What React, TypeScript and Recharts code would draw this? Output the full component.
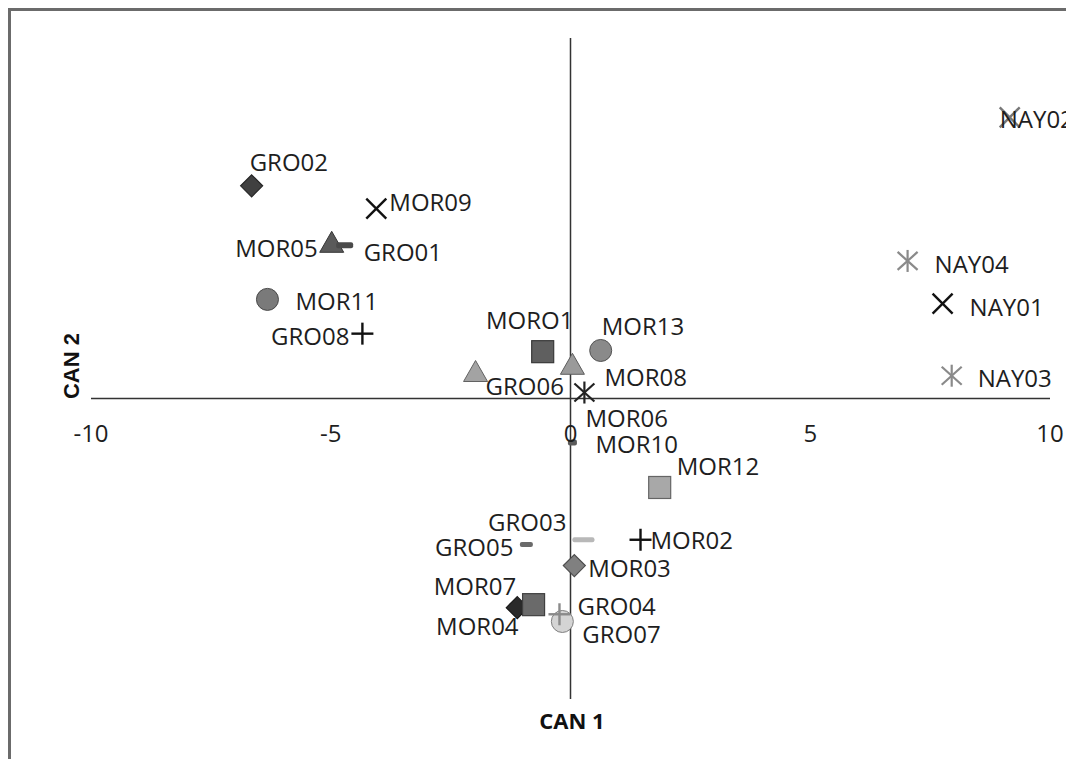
import { ReferenceDot, ReferenceLine, Scatter, ScatterChart, XAxis, YAxis } from 'recharts';

// canonical scores
const samples = [
  'GRO02', 'MOR09', 'MOR05', 'GRO01', 'MOR11', 'GRO08', 'MORO1', 'MOR13', 'GRO06', 'MOR08',
  'MOR06', 'MOR10', 'MOR12', 'GRO03', 'GRO05', 'MOR02', 'MOR03', 'MOR07', 'MOR04', 'GRO07',
  'GRO04', 'NAY02', 'NAY04', 'NAY01', 'NAY03',
];
const can1 = [
  -6.65, -4.05, -4.98, -4.71, -6.32, -4.34, -0.58, 0.63, -1.98, 0.04,
  0.29, 0.04, 1.86, 0.27, -0.92, 1.46, 0.08, -1.11, -0.77, -0.17,
  -0.23, 9.16, 7.03, 7.76, 7.95,
];
const can2 = [
  3.54, 3.16, 2.6, 2.55, 1.65, 1.08, 0.78, 0.8, 0.45, 0.57,
  0.1, -0.73, -1.48, -2.35, -2.43, -2.35, -2.78, -3.48, -3.43, -3.71,
  -3.59, 4.68, 2.29, 1.58, 0.38,
];
const xTicks = [-10, -5, 0, 5, 10];
const xDomain: [number, number] = [-10, 10];
const yDomain: [number, number] = [-5, 6];

const points = samples.map((name, i) => ({ name, can1: can1[i], can2: can2[i] }));

type Mark = 'diamond' | 'square' | 'circle' | 'triangle' | 'x' | 'plus' | 'star' | 'dash';
type Style = { mark: Mark; fill: string; size?: number; w?: number; lx: number; ly: number; anchor?: 'start' | 'middle' | 'end' };

const styles: Record<string, Style> = {
  GRO02: { mark: 'diamond', fill: '#404040', lx: -2, ly: -24 },
  MOR09: { mark: 'x', fill: '#111', lx: 13, ly: -7 },
  MOR05: { mark: 'triangle', fill: '#5a5a5a', lx: -14, ly: 5, anchor: 'end' },
  GRO01: { mark: 'dash', fill: '#4a4a4a', w: 17, size: 6, lx: 19, ly: 6 },
  MOR11: { mark: 'circle', fill: '#7a7a7a', lx: 28, ly: 1 },
  GRO08: { mark: 'plus', fill: '#111', lx: -13, ly: 2, anchor: 'end' },
  MORO1: { mark: 'square', fill: '#5f5f5f', lx: -13, ly: -32, anchor: 'middle' },
  MOR13: { mark: 'circle', fill: '#8a8a8a', lx: 1, ly: -25 },
  GRO06: { mark: 'triangle', fill: '#a3a3a3', lx: 10, ly: 14 },
  MOR08: { mark: 'triangle', fill: '#9a9a9a', lx: 32, ly: 12 },
  MOR06: { mark: 'star', fill: '#222', lx: 1, ly: 25 },
  MOR10: { mark: 'dash', fill: '#5a5a5a', w: 9, size: 6, lx: 23, ly: 1 },
  MOR12: { mark: 'square', fill: '#a8a8a8', lx: 17, ly: -22 },
  GRO03: { mark: 'dash', fill: '#b8b8b8', w: 22, size: 5, lx: -17, ly: -18, anchor: 'end' },
  GRO05: { mark: 'dash', fill: '#6a6a6a', w: 13, size: 5, lx: -13, ly: 2, anchor: 'end' },
  MOR02: { mark: 'plus', fill: '#111', lx: 10, ly: 0 },
  MOR03: { mark: 'diamond', fill: '#808080', lx: 14, ly: 2 },
  MOR07: { mark: 'diamond', fill: '#2a2a2a', lx: -1, ly: -22, anchor: 'end' },
  MOR04: { mark: 'square', fill: '#6a6a6a', lx: -15, ly: 21, anchor: 'end' },
  GRO07: { mark: 'circle', fill: '#d4d4d4', lx: 20, ly: 12 },
  GRO04: { mark: 'plus', fill: '#8a8a8a', lx: 18, ly: -9 },
  NAY02: { mark: 'x', fill: '#777', lx: -10, ly: 1 },
  NAY04: { mark: 'star', fill: '#8a8a8a', lx: 27, ly: 3 },
  NAY01: { mark: 'x', fill: '#111', lx: 27, ly: 3 },
  NAY03: { mark: 'star', fill: '#8a8a8a', lx: 26, ly: 2 },
};

const FONT = '"Open Sans", sans-serif';

function darker(c: string) {
  const n = parseInt(c.slice(1).length === 3 ? c.slice(1).split('').map((d) => d + d).join('') : c.slice(1), 16);
  const f = (v: number) => Math.round(v * 0.6).toString(16).padStart(2, '0');
  return '#' + f((n >> 16) & 255) + f((n >> 8) & 255) + f(n & 255);
}

function drawMark(s: Style, cx: number, cy: number) {
  const h = s.size ?? 11;
  const edge = darker(s.fill);
  switch (s.mark) {
    case 'diamond':
      return <polygon points={`${cx},${cy - h} ${cx + h},${cy} ${cx},${cy + h} ${cx - h},${cy}`} fill={s.fill} stroke={edge} strokeWidth={1.2} />;
    case 'square':
      return <rect x={cx - h} y={cy - h} width={2 * h} height={2 * h} fill={s.fill} stroke={edge} strokeWidth={1.2} />;
    case 'circle':
      return <circle cx={cx} cy={cy} r={h} fill={s.fill} stroke={edge} strokeWidth={1} />;
    case 'triangle':
      return <polygon points={`${cx},${cy - h} ${cx + h + 1},${cy + h - 1} ${cx - h - 1},${cy + h - 1}`} fill={s.fill} stroke={edge} strokeWidth={1} />;
    case 'x':
      return (
        <g stroke={s.fill} strokeWidth={2.4}>
          <line x1={cx - 10} y1={cy - 10} x2={cx + 10} y2={cy + 10} />
          <line x1={cx - 10} y1={cy + 10} x2={cx + 10} y2={cy - 10} />
        </g>
      );
    case 'plus':
      return (
        <g stroke={s.fill} strokeWidth={2.4}>
          <line x1={cx - 11} y1={cy} x2={cx + 11} y2={cy} />
          <line x1={cx} y1={cy - 11} x2={cx} y2={cy + 11} />
        </g>
      );
    case 'star':
      return (
        <g stroke={s.fill} strokeWidth={2.2}>
          <line x1={cx - 10} y1={cy - 9} x2={cx + 10} y2={cy + 9} />
          <line x1={cx - 10} y1={cy + 9} x2={cx + 10} y2={cy - 9} />
          <line x1={cx} y1={cy - 11} x2={cx} y2={cy + 11} />
        </g>
      );
    case 'dash': {
      const w = s.w ?? 12;
      return <rect x={cx - w / 2} y={cy - h / 2} width={w} height={h} rx={2} fill={s.fill} />;
    }
  }
}

function PointMark(props: any) {
  const { cx, cy, payload } = props;
  const s = styles[payload.name];
  if (!s || cx == null || cy == null) return <g />;
  return (
    <g>
      {drawMark(s, cx, cy)}
      <text
        x={cx + s.lx}
        y={cy + s.ly}
        textAnchor={s.anchor ?? 'start'}
        dominantBaseline="central"
        fontFamily={FONT}
        fontSize={24}
        fill="#1e1e1e"
      >
        {payload.name}
      </text>
    </g>
  );
}

export default function App() {
  return (
    <div
      style={{
        position: 'relative',
        width: 1066,
        height: 751,
        boxSizing: 'border-box',
        borderTop: '3px solid #6b6b6b',
        borderLeft: '3px solid #6b6b6b',
        background: '#fff',
        overflow: 'hidden',
      }}
    >
      <ScatterChart width={1063} height={748} margin={{ top: 27, right: 24, bottom: 60, left: 80 }}>
        <XAxis type="number" dataKey="can1" domain={xDomain} ticks={xTicks} hide />
        <YAxis type="number" dataKey="can2" domain={yDomain} hide />
        <ReferenceLine y={0} stroke="#333" strokeWidth={1.5} />
        <ReferenceLine x={0} stroke="#333" strokeWidth={1.5} />
        {xTicks.map((t) => (
          <ReferenceDot
            key={t}
            x={t}
            y={0}
            r={0}
            fill="none"
            stroke="none"
            ifOverflow="visible"
            label={{ value: String(t), position: 'bottom', offset: 26, fill: '#1e1e1e', fontSize: 24, fontFamily: FONT }}
          />
        ))}
        <Scatter data={points} dataKey="can2" shape={PointMark} isAnimationActive={false} />
      </ScatterChart>
      <div
        style={{
          position: 'absolute',
          left: 572 - 11 - 50,
          top: 720 - 11 - 15,
          width: 100,
          textAlign: 'center',
          fontFamily: FONT,
          fontWeight: 700,
          fontSize: 22,
          color: '#111',
          lineHeight: '30px',
        }}
      >
        CAN 1
      </div>
      <div
        style={{
          position: 'absolute',
          left: 72 - 11 - 50,
          top: 366 - 11 - 15,
          width: 100,
          height: 30,
          lineHeight: '30px',
          textAlign: 'center',
          transform: 'rotate(-90deg)',
          fontFamily: '"Liberation Sans", Arial, sans-serif',
          fontWeight: 700,
          fontSize: 22,
          color: '#111',
        }}
      >
        CAN 2
      </div>
    </div>
  );
}
